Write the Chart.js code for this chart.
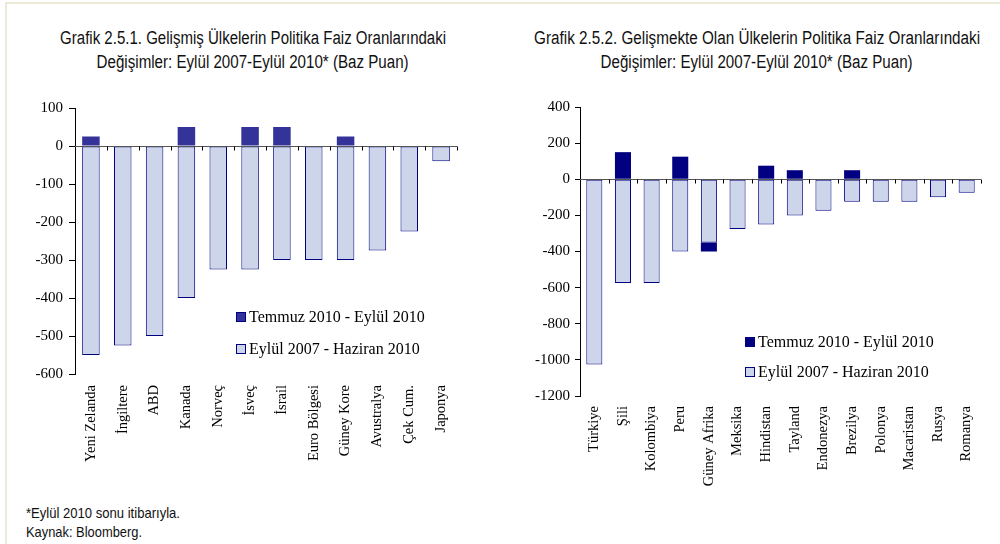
<!DOCTYPE html>
<html>
<head>
<meta charset="utf-8">
<script src="https://cdn.jsdelivr.net/npm/chart.js@4/dist/chart.umd.min.js"></script>
<style>
  html, body { margin: 0; padding: 0; background: #fff; }
  body { width: 1000px; height: 544px; position: relative; overflow: hidden; }
  .frame { position: absolute; left: 5px; top: 2px; right: 0; bottom: 0;
           border-left: 2px solid #ECE9D8; border-top: 2px solid #ECE9D8; }
  .title { position: absolute; font-family: 'Liberation Sans', Arial, sans-serif;
           font-size: 18px; line-height: 24px; color: #111; white-space: nowrap; }
  .title span, .note span { display: inline-block; white-space: nowrap; }
  .title span { transform-origin: center; }
  .note { position: absolute; left: 26px; font-family: 'Liberation Sans', Arial, sans-serif;
          font-size: 15px; line-height: 19px; color: #111; }
  .note span { transform-origin: left; }
  canvas { position: absolute; }
</style>
</head>
<body>
<div class="frame"></div>

<div class="title" style="left:-97px; width:700px; top:26px; text-align:center">
  <span data-w="386">Grafik 2.5.1. Gelişmiş Ülkelerin Politika Faiz Oranlarındaki</span><br>
  <span data-w="312">Değişimler: Eylül 2007-Eylül 2010* (Baz Puan)</span>
</div>
<div class="title" style="left:407px; width:700px; top:26px; text-align:center">
  <span data-w="446">Grafik 2.5.2. Gelişmekte Olan Ülkelerin Politika Faiz Oranlarındaki</span><br>
  <span data-w="312">Değişimler: Eylül 2007-Eylül 2010* (Baz Puan)</span>
</div>

<canvas id="devChart" width="480" height="390" style="left:0; top:90px"></canvas>
<canvas id="emgChart" width="500" height="410" style="left:500px; top:90px"></canvas>

<div class="note" style="top:503px">
  <span data-w="154">*Eylül 2010 sonu itibarıyla.</span><br>
  <span data-w="116">Kaynak: Bloomberg.</span>
</div>

<script>
'use strict';

// ── Data ───────────────────────────────────────────────────
const seriesLabels = ['Eylül 2007 - Haziran 2010', 'Temmuz 2010 - Eylül 2010'];

const devCountries = ['Yeni Zelanda', 'İngiltere', 'ABD', 'Kanada', 'Norveç', 'İsveç',
  'İsrail', 'Euro Bölgesi', 'Güney Kore', 'Avustralya', 'Çek Cum.', 'Japonya'];
const devEarly  = [-550, -525, -500, -400, -325, -325, -300, -300, -300, -275, -225, -40];
const devRecent = [25, 0, 0, 50, 0, 50, 50, 0, 25, 0, 0, 0];
const devTicks  = { min: -600, max: 100, step: 100 };

const emgCountries = ['Türkiye', 'Şili', 'Kolombiya', 'Peru', 'Güney Afrika', 'Meksika',
  'Hindistan', 'Tayland', 'Endonezya', 'Brezilya', 'Polonya', 'Macaristan', 'Rusya', 'Romanya'];
const emgEarly  = [-1025, -575, -575, -400, -350, -275, -250, -200, -175, -125, -125, -125, -100, -75];
const emgRecent = [0, 150, 0, 125, -50, 0, 75, 50, 0, 50, 0, 0, 0, 0];
const emgTicks  = { min: -1200, max: 400, step: 200 };

const SERIF = "'Liberation Serif', 'Times New Roman', serif";
Chart.defaults.font.family = SERIF;
Chart.defaults.color = '#000';

// zero line with category ticks + legend drawn inside the plot
const innerMarks = {
  id: 'innerMarks',
  afterDatasetsDraw(chart, args, opts) {
    const { ctx, chartArea: a, scales: { x, y } } = chart;
    const y0 = Math.round(y.getPixelForValue(0)) + 0.5;
    const half = (x.getPixelForValue(1) - x.getPixelForValue(0)) / 2;
    ctx.save();
    ctx.lineWidth = 1;
    ctx.strokeStyle = '#555';
    ctx.beginPath(); ctx.moveTo(a.left, y0); ctx.lineTo(a.right, y0); ctx.stroke();
    ctx.strokeStyle = '#000';
    ctx.beginPath();
    for (let i = 0; i < chart.data.labels.length; i++) {
      const px = Math.round(x.getPixelForValue(i) + half) + 0.5;
      ctx.moveTo(px, y0); ctx.lineTo(px, y0 + 4);
    }
    ctx.stroke();

    // legend: latest period first
    const sets = chart.data.datasets.slice().reverse();
    ctx.font = `${opts.fontSize}px ${SERIF}`;
    ctx.textBaseline = 'middle';
    sets.forEach((ds, i) => {
      const cy = opts.y + i * opts.gap;
      ctx.fillStyle = ds.backgroundColor;
      ctx.fillRect(opts.x, cy - 5, 10, 10);
      ctx.strokeStyle = '#000080';
      ctx.strokeRect(opts.x + 0.5, cy - 4.5, 9, 9);
      ctx.fillStyle = '#000';
      ctx.fillText(ds.label, opts.x + 13, cy + 1);
    });
    ctx.restore();
  }
};

function renderChart(id, labels, early, recent, ticks, cfg) {
  const ctx = document.getElementById(id).getContext('2d');
  return new Chart(ctx, {
    type: 'bar',
    data: {
      labels,
      datasets: [
        {
          label: seriesLabels[0],
          data: early,
          backgroundColor: '#CCD5EA',
          borderColor: '#000080',
          borderWidth: 1,
          borderSkipped: false,
        },
        {
          label: seriesLabels[1],
          data: recent,
          backgroundColor: cfg.dark,
          borderWidth: 0,
        }
      ]
    },
    options: {
      responsive: false,
      animation: false,
      layout: { padding: cfg.padding },
      datasets: { bar: { categoryPercentage: 1, barPercentage: cfg.barPct } },
      scales: {
        x: {
          stacked: true,
          grid: { display: false, drawTicks: false },
          border: { display: false },
          ticks: {
            autoSkip: false, minRotation: 90, maxRotation: 90,
            padding: cfg.xPad, font: { family: SERIF, size: cfg.xFont }, color: '#000'
          },
          afterFit: s => { s.height = cfg.xHeight; }
        },
        y: {
          stacked: true,
          min: ticks.min, max: ticks.max,
          grid: { drawOnChartArea: false, drawTicks: true, tickLength: cfg.tickLen, tickColor: '#000' },
          border: { display: true, color: '#000', width: 1 },
          ticks: {
            stepSize: ticks.step, padding: cfg.yPad,
            font: { family: SERIF, size: cfg.yFont }, color: '#000',
            callback: v => String(v)
          },
          afterFit: s => { s.width = cfg.yWidth; }
        }
      },
      plugins: {
        legend: { display: false },
        tooltip: { enabled: false },
        innerMarks: cfg.legend
      }
    },
    plugins: [innerMarks]
  });
}

renderChart('devChart', devCountries, devEarly, devRecent, devTicks, {
  dark: '#333399', barPct: 0.55,
  padding: { top: 18, right: 23, bottom: 0, left: 0 },
  xHeight: 106, xPad: 11, xFont: 14.5,
  yWidth: 75, yPad: 6, yFont: 15, tickLen: 6,
  legend: { x: 236, y: 227, gap: 32, fontSize: 16 }
});

renderChart('emgChart', emgCountries, emgEarly, emgRecent, emgTicks, {
  dark: '#000080', barPct: 0.56,
  padding: { top: 17, right: 19, bottom: 0, left: 0 },
  xHeight: 104, xPad: 10, xFont: 14.5,
  yWidth: 80, yPad: 5, yFont: 15, tickLen: 5,
  legend: { x: 245, y: 252, gap: 30, fontSize: 16 }
});

// squeeze the narrow sans captions to their measured widths
document.querySelectorAll('[data-w]').forEach(el => {
  const w = el.getBoundingClientRect().width;
  if (w > 0) el.style.transform = `scaleX(${el.dataset.w / w})`;
});
</script>
</body>
</html>
